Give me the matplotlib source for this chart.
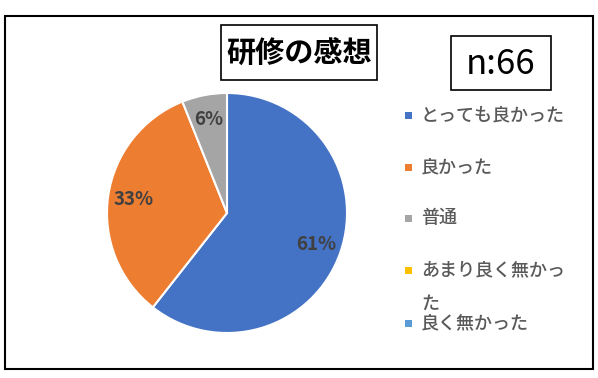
import matplotlib
matplotlib.use("Agg")
import matplotlib.pyplot as plt
from matplotlib.patches import Rectangle

plt.rcParams['font.family'] = ['Noto Sans CJK JP', 'DejaVu Sans']

# データ (n=66)
labels = ["とっても良かった", "良かった", "普通", "あまり良く無かっ\nた", "良く無かった"]
counts = [40, 22, 4, 0, 0]
colors = ["#4472C4", "#ED7D31", "#A5A5A5", "#FFC000", "#5B9BD5"]
title = "研修の感想"
n_label = "n:66"

W, H = 598, 378
fig = plt.figure(figsize=(W / 100, H / 100), dpi=100)
ax = fig.add_axes([0, 0, 1, 1])

# 円グラフ (0件の項目は描かない)
vals = [c for c in counts if c > 0]
cols = [colors[i] for i, c in enumerate(counts) if c > 0]
wedges, texts, autotexts = ax.pie(
    vals, colors=cols, startangle=90, counterclock=False,
    center=(227, H - 213), radius=120,
    autopct='%.0f%%', pctdistance=0.79,
    wedgeprops=dict(edgecolor='white', linewidth=1.5),
    textprops=dict(fontsize=13.5, fontweight='bold', color='#404040'))

ax.set_xlim(0, W)
ax.set_ylim(0, H)
ax.set_aspect('equal')
ax.axis('off')

# 外枠
ax.add_patch(Rectangle((5, H - 369), 588, 353, fill=False, edgecolor='black', linewidth=1.5))

# タイトル
ax.add_patch(Rectangle((221, H - 80), 156, 55, fill=False, edgecolor='black', linewidth=1.2))
ax.text(299, H - 53, title, ha='center', va='center', fontsize=21, fontweight='bold', color='black')

# n
ax.add_patch(Rectangle((451, H - 90), 100, 54, fill=False, edgecolor='black', linewidth=1.2))
ax.text(501, H - 64, n_label, ha='center', va='center', fontsize=25, color='black')

# 凡例
leg_y = [115, 167, 218, 270, 323]
for lab, col, y in zip(labels, colors, leg_y):
    ax.add_patch(Rectangle((405, H - y - 3.5), 7, 7, facecolor=col, edgecolor='none'))
    first, *rest = lab.split("\n")
    ax.text(421, H - y, first, ha='left', va='center', fontsize=13,
            fontweight='medium', color='#595959')
    if rest:
        ax.text(421, H - y - 34, rest[0], ha='left', va='center', fontsize=13,
                fontweight='medium', color='#595959')

fig.savefig("out.png", dpi=100)
